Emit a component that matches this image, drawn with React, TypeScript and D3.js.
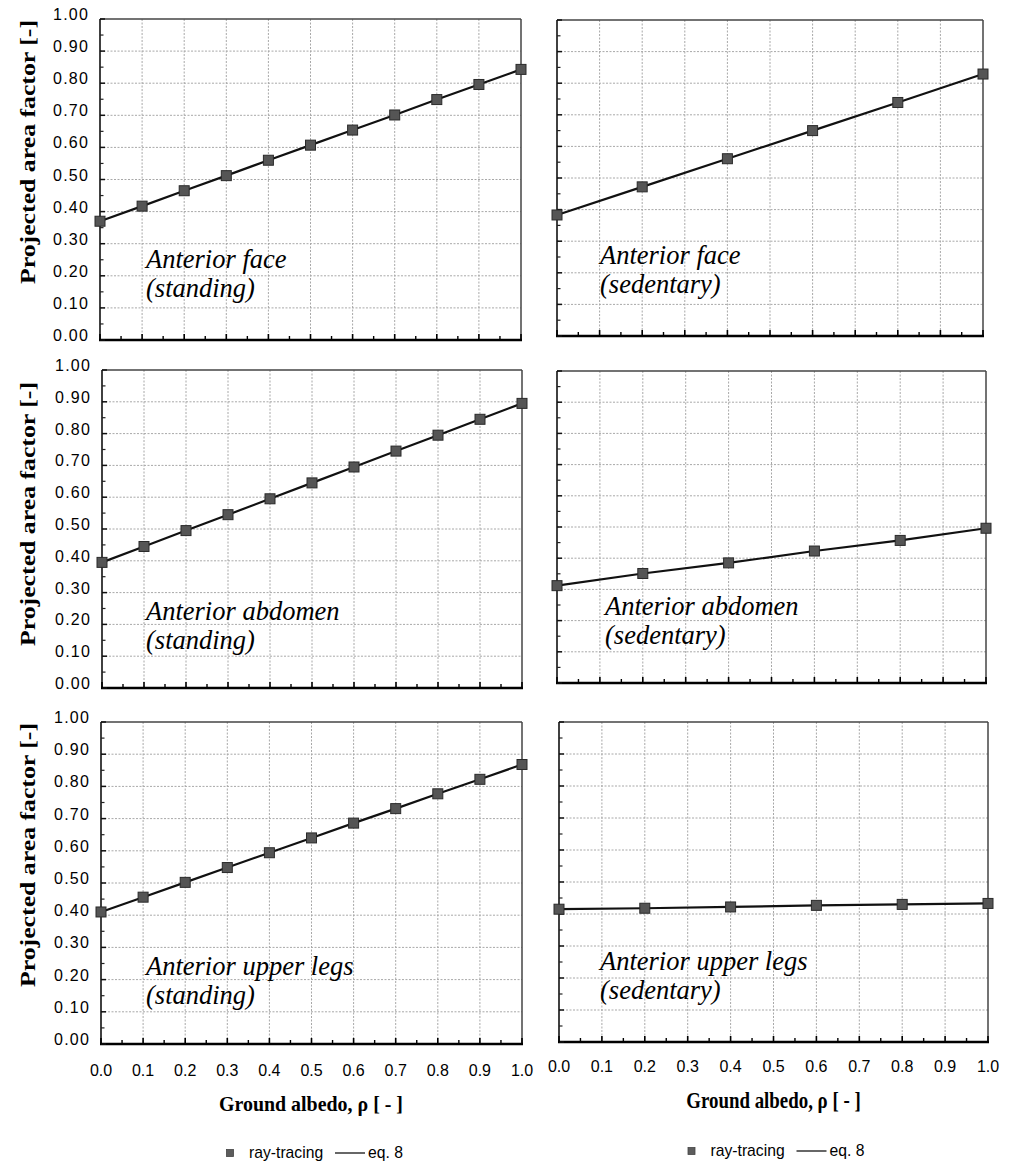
import React from 'react';
import * as d3 from 'd3';

// ---------- data ----------
const xStanding = [0.0, 0.1, 0.2, 0.3, 0.4, 0.5, 0.6, 0.7, 0.8, 0.9, 1.0];
const xSedentary = [0.0, 0.2, 0.4, 0.6, 0.8, 1.0];

const faceStanding = [0.370, 0.417, 0.465, 0.512, 0.560, 0.607, 0.654, 0.701, 0.749, 0.796, 0.843];
const faceSedentary = [0.383, 0.472, 0.561, 0.650, 0.739, 0.829];
const abdomenStanding = [0.395, 0.445, 0.495, 0.545, 0.595, 0.645, 0.695, 0.745, 0.795, 0.845, 0.895];
const abdomenSedentary = [0.312, 0.351, 0.385, 0.423, 0.457, 0.496];
const legsStanding = [0.410, 0.456, 0.502, 0.548, 0.594, 0.640, 0.686, 0.731, 0.777, 0.822, 0.868];
const legsSedentary = [0.415, 0.418, 0.422, 0.427, 0.430, 0.433];

const yTickLabels = ['0.00', '0.10', '0.20', '0.30', '0.40', '0.50', '0.60', '0.70', '0.80', '0.90', '1.00'];
const xTickLabels = ['0.0', '0.1', '0.2', '0.3', '0.4', '0.5', '0.6', '0.7', '0.8', '0.9', '1.0'];

const titles = [
  ['Anterior face', '(standing)'],
  ['Anterior face', '(sedentary)'],
  ['Anterior abdomen', '(standing)'],
  ['Anterior abdomen', '(sedentary)'],
  ['Anterior upper legs', '(standing)'],
  ['Anterior upper legs', '(sedentary)'],
];
const yTitle = 'Projected area factor [-]';
const xTitle = 'Ground albedo, ρ [ - ]';
const legendLabels = ['ray-tracing', 'eq. 8'];

// ---------- layout ----------
type Panel = {
  x0: number; x1: number; y0: number; y1: number;
  xs: number[]; ys: number[]; title: string[];
  tx: number; ty: number; left: boolean; bottom: boolean; yTitleY?: number;
};

const panels: Panel[] = [
  { x0: 100, x1: 521, y0: 19, y1: 340, xs: xStanding, ys: faceStanding, title: titles[0], tx: 146, ty: 268, left: true, bottom: false, yTitleY: 152 },
  { x0: 557, x1: 983, y0: 20, y1: 336, xs: xSedentary, ys: faceSedentary, title: titles[1], tx: 600, ty: 264, left: false, bottom: false },
  { x0: 102, x1: 522, y0: 370, y1: 688, xs: xStanding, ys: abdomenStanding, title: titles[2], tx: 146, ty: 620, left: true, bottom: false, yTitleY: 514 },
  { x0: 557, x1: 986, y0: 371, y1: 683, xs: xSedentary, ys: abdomenSedentary, title: titles[3], tx: 605, ty: 615, left: false, bottom: false },
  { x0: 101, x1: 522, y0: 722, y1: 1044, xs: xStanding, ys: legsStanding, title: titles[4], tx: 146, ty: 975, left: true, bottom: true, yTitleY: 855 },
  { x0: 559, x1: 988, y0: 722, y1: 1042, xs: xSedentary, ys: legsSedentary, title: titles[5], tx: 600, ty: 970, left: false, bottom: true },
];

const SANS = '"Liberation Sans", Arial, sans-serif';
const SERIF = '"Liberation Serif", "Times New Roman", serif';

function PanelView({ p }: { p: Panel }) {
  const x = d3.scaleLinear().domain([0, 1]).range([p.x0, p.x1]);
  const y = d3.scaleLinear().domain([0, 1]).range([p.y1, p.y0]);
  const major = d3.range(0, 11).map((i) => i / 10);
  const minor = d3.range(0, 10).map((i) => i / 10 + 0.05);
  const pts = p.xs.map((xv, i) => [xv, p.ys[i]] as [number, number]);
  const line = d3.line<[number, number]>().x((d) => x(d[0])).y((d) => y(d[1]));
  const ms = 10;
  return (
    <g>
      {/* grid */}
      {major.slice(1, 10).map((v) => (
        <line key={'gx' + v} x1={x(v)} x2={x(v)} y1={p.y0} y2={p.y1} stroke="#a8a8a8" strokeWidth={1} strokeDasharray="2,1.5" />
      ))}
      {major.slice(1, 10).map((v) => (
        <line key={'gy' + v} x1={p.x0} x2={p.x1} y1={y(v)} y2={y(v)} stroke="#a8a8a8" strokeWidth={1} strokeDasharray="2,1.5" />
      ))}
      {/* frame */}
      <line x1={p.x0} x2={p.x1} y1={p.y0} y2={p.y0} stroke="#444" strokeWidth={1.5} />
      <line x1={p.x1} x2={p.x1} y1={p.y0} y2={p.y1} stroke="#444" strokeWidth={1.5} />
      <line x1={p.x0} x2={p.x0} y1={p.y0} y2={p.y1} stroke="#111" strokeWidth={1.6} />
      <line x1={p.x0 - 1} x2={p.x1 + 1} y1={p.y1} y2={p.y1} stroke="#000" strokeWidth={2.5} />
      {/* ticks */}
      {major.map((v) => (
        <line key={'ty' + v} x1={p.x0} x2={p.x0 + 5} y1={y(v)} y2={y(v)} stroke="#111" strokeWidth={1.5} />
      ))}
      {minor.map((v) => (
        <line key={'tym' + v} x1={p.x0} x2={p.x0 + 3.5} y1={y(v)} y2={y(v)} stroke="#222" strokeWidth={1.2} />
      ))}
      {major.map((v) => (
        <line key={'tx' + v} x1={x(v)} x2={x(v)} y1={p.y1} y2={p.y1 - 6} stroke="#000" strokeWidth={1.6} />
      ))}
      {minor.map((v) => (
        <line key={'txm' + v} x1={x(v)} x2={x(v)} y1={p.y1} y2={p.y1 - 4} stroke="#000" strokeWidth={1.4} />
      ))}
      {/* y tick labels */}
      {p.left && major.map((v, i) => (
        <text key={'yl' + v} x={p.x0 - 11} y={y(v) + 1} textAnchor="end" fontFamily={SANS} fontSize={16} letterSpacing={1.2} fill="#000">
          {yTickLabels[i]}
        </text>
      ))}
      {/* x tick labels */}
      {p.bottom && major.map((v, i) => (
        <text key={'xl' + v} x={x(v)} y={p.y1 + (p.left ? 32 : 30)} textAnchor="middle" fontFamily={SANS} fontSize={16} fill="#000">
          {xTickLabels[i]}
        </text>
      ))}
      {/* y title */}
      {p.left && p.yTitleY !== undefined && (
        <text transform={`translate(35,${p.yTitleY}) rotate(-90)`} textAnchor="middle" fontFamily={SERIF} fontWeight="bold" fontSize={20}
          textLength={264} lengthAdjust="spacingAndGlyphs" fill="#000">
          {yTitle}
        </text>
      )}
      {/* annotation */}
      <text x={p.tx} y={p.ty} fontFamily={SERIF} fontStyle="italic" fontSize={26.5} fill="#000">{p.title[0]}</text>
      <text x={p.tx} y={p.ty + 29} fontFamily={SERIF} fontStyle="italic" fontSize={26.5} fill="#000">{p.title[1]}</text>
      {/* data */}
      <path d={line(pts) || ''} fill="none" stroke="#111" strokeWidth={2.2} />
      {pts.map((d, i) => (
        <rect key={'m' + i} x={x(d[0]) - ms / 2} y={y(d[1]) - ms / 2} width={ms} height={ms} fill="#555" stroke="#2a2a2a" strokeWidth={1} />
      ))}
    </g>
  );
}

function Legend({ cx, cy }: { cx: number; cy: number }) {
  return (
    <g>
      <rect x={cx - 3.5} y={cy - 3.5} width={7} height={7} fill="#5c5c5c" stroke="#444" strokeWidth={0.8} />
      <text x={cx + 19} y={cy + 5} fontFamily={SANS} fontSize={15.7} fill="#000">{legendLabels[0]}</text>
      <line x1={cx + 105} x2={cx + 135} y1={cy} y2={cy} stroke="#000" strokeWidth={1.2} />
      <text x={cx + 138} y={cy + 5} fontFamily={SANS} fontSize={15.7} fill="#000">{legendLabels[1]}</text>
    </g>
  );
}

export default function App() {
  return (
    <svg width={1012} height={1163} style={{ position: 'absolute', left: 0, top: 0, background: '#fff' }}>
      <rect x={0} y={0} width={1012} height={1163} fill="#fff" />
      {panels.map((p, i) => <PanelView key={i} p={p} />)}
      <text x={311} y={1111} textAnchor="middle" fontFamily={SERIF} fontWeight="bold" fontSize={21.5}
        textLength={184} lengthAdjust="spacingAndGlyphs" fill="#000">
        {xTitle}
      </text>
      <text transform="translate(773.5,1108) scale(0.9,1.08)" textAnchor="middle" fontFamily={SERIF} fontWeight="bold" fontSize={21}
        fill="#000">
        {xTitle}
      </text>
      <Legend cx={230} cy={1153} />
      <Legend cx={691.5} cy={1151} />
    </svg>
  );
}
